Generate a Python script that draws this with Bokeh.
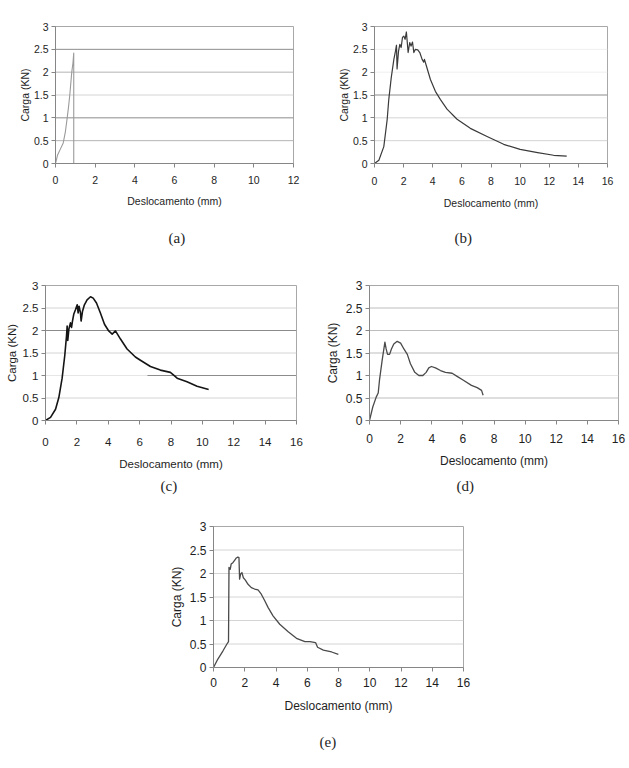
from bokeh.plotting import figure
from bokeh.layouts import column, row, Spacer
from bokeh.models import Range1d, FixedTicker, Span, Title, NumeralTickFormatter
from bokeh.embed import file_html
from bokeh.resources import INLINE

# Load–displacement curves, one per specimen: Deslocamento (mm) vs Carga (KN)
a_x = [0, 0.1, 0.25, 0.39, 0.5, 0.59, 0.66, 0.72, 0.82, 0.88, 0.92, 0.92]
a_y = [0, 0.18, 0.32, 0.45, 0.7, 1.0, 1.25, 1.5, 2.0, 2.2, 2.42, 0]

b_x = [0, 0.3, 0.64, 0.87, 0.98, 1.15, 1.33, 1.44, 1.51, 1.55, 1.65, 1.74, 1.83, 1.92,
       2.01, 2.1, 2.19, 2.31, 2.42, 2.51, 2.61, 2.7, 2.81, 2.97, 3.11, 3.27, 3.38, 3.43,
       3.57, 3.84, 4.18, 4.53, 4.98, 5.67, 6.58, 7.73, 8.87, 10.0, 11.2, 12.3, 13.2]
b_y = [0, 0.07, 0.37, 0.96, 1.4, 1.88, 2.28, 2.46, 2.59, 2.07, 2.46, 2.61, 2.54, 2.76,
       2.79, 2.72, 2.88, 2.43, 2.65, 2.57, 2.66, 2.43, 2.5, 2.49, 2.43, 2.28, 2.22, 2.28,
       2.13, 1.84, 1.58, 1.4, 1.19, 0.97, 0.77, 0.59, 0.42, 0.31, 0.24, 0.18, 0.16]

c_x = [0, 0.32, 0.64, 0.85, 1.06, 1.23, 1.34, 1.38, 1.42, 1.49, 1.59, 1.66, 1.72, 1.8,
       1.91, 2.02, 2.08, 2.14, 2.23, 2.27, 2.36, 2.48, 2.65, 2.87, 3.04, 3.25, 3.5, 3.76,
       4.03, 4.25, 4.46, 4.78, 5.2, 5.73, 6.05, 6.69, 7.32, 7.96, 8.17, 8.39, 9.02, 9.66, 10.4]
c_y = [0, 0.07, 0.25, 0.51, 0.94, 1.45, 1.88, 2.1, 1.78, 2.03, 2.17, 2.07, 2.21, 2.36,
       2.46, 2.57, 2.39, 2.54, 2.39, 2.21, 2.43, 2.57, 2.68, 2.75, 2.72, 2.61, 2.39, 2.14,
       1.99, 1.92, 1.99, 1.81, 1.59, 1.41, 1.34, 1.2, 1.12, 1.07, 1.01, 0.94, 0.86, 0.76, 0.69]

d_x = [0, 0.21, 0.43, 0.56, 0.64, 0.81, 0.99, 1.07, 1.16, 1.29, 1.41, 1.56, 1.78, 2.0,
       2.21, 2.43, 2.63, 2.91, 3.17, 3.43, 3.64, 3.81, 3.98, 4.24, 4.56, 4.88, 5.31, 5.63,
       6.06, 6.55, 6.92, 7.2, 7.3]
d_y = [0, 0.3, 0.52, 0.61, 0.89, 1.33, 1.74, 1.59, 1.47, 1.47, 1.59, 1.7, 1.76, 1.72,
       1.59, 1.47, 1.26, 1.07, 1.0, 1.0, 1.07, 1.17, 1.2, 1.17, 1.11, 1.07, 1.05, 0.98,
       0.89, 0.78, 0.73, 0.67, 0.56]

e_x = [0, 0.28, 0.6, 0.86, 0.96, 0.99, 0.99, 1.07, 1.13, 1.24, 1.35, 1.46, 1.56, 1.63,
       1.67, 1.74, 1.82, 1.91, 2.04, 2.21, 2.42, 2.63, 2.85, 3.06, 3.28, 3.49, 3.81, 4.24,
       4.78, 5.31, 5.85, 6.17, 6.53, 6.66, 7.03, 7.56, 7.99]
e_y = [0, 0.18, 0.35, 0.5, 0.55, 2.06, 2.13, 2.09, 2.2, 2.23, 2.28, 2.33, 2.35, 2.34,
       1.88, 1.99, 2.02, 1.91, 1.86, 1.77, 1.7, 1.67, 1.65, 1.56, 1.42, 1.28, 1.1, 0.92,
       0.76, 0.62, 0.55, 0.55, 0.53, 0.43, 0.37, 0.33, 0.28]

y_ticks = [0, 0.5, 1, 1.5, 2, 2.5, 3]
x_label = "Deslocamento (mm)"
y_label = "Carga (KN)"
captions = ["(a)", "(b)", "(c)", "(d)", "(e)"]

SANS = "Liberation Sans"
SERIF = "Liberation Serif"
DARK_GRID = "#8c8c8c"
LIGHT_GRID = "#d4d4d4"


def panel(width, height, frame, xmax, xs, ys, color, lw, fs, lfs, grid, caption,
          cap_offset, cap_standoff, xtick_standoff, xlab_standoff, ylab_standoff,
          extra=None):
    left, right, top, bottom = frame
    p = figure(width=width, height=height, output_backend="svg", toolbar_location=None,
               title=None, x_range=Range1d(0, xmax), y_range=Range1d(0, 3),
               min_border_left=left, min_border_right=right,
               min_border_top=top, min_border_bottom=bottom,
               background_fill_color="white", border_fill_color="white")
    p.outline_line_color = "#a8a8a8"
    p.outline_line_width = 1
    p.grid.grid_line_color = None

    # horizontal gridlines, each with its own shade
    for level, shade in grid:
        p.add_layout(Span(location=level, dimension="width", line_color=shade,
                          line_width=1, level="underlay"))
    if extra is not None:
        extra(p)

    p.line(xs, ys, line_color=color, line_width=lw, line_join="round")

    p.xaxis.ticker = FixedTicker(ticks=list(range(0, xmax + 1, 2)))
    p.yaxis.ticker = FixedTicker(ticks=y_ticks)
    p.yaxis.formatter = NumeralTickFormatter(format="0.[0]")
    for ax in (p.xaxis[0], p.yaxis[0]):
        ax.axis_line_color = "#868686"
        ax.major_tick_line_color = "#868686"
        ax.major_tick_out = 4
        ax.major_tick_in = 0
        ax.minor_tick_line_color = None
        ax.major_label_text_font = SANS
        ax.major_label_text_font_size = f"{fs}px"
        ax.major_label_text_color = "#1e1e1e"
        ax.axis_label_text_font = SANS
        ax.axis_label_text_font_size = f"{lfs}px"
        ax.axis_label_text_font_style = "normal"
        ax.axis_label_text_color = "#1e1e1e"
    p.xaxis.axis_label = x_label
    p.yaxis.axis_label = y_label
    p.xaxis.major_label_standoff = xtick_standoff
    p.yaxis.major_label_standoff = 3
    p.xaxis.axis_label_standoff = xlab_standoff
    p.yaxis.axis_label_standoff = ylab_standoff

    # caption under the x-axis title, offset from the frame's left edge
    p.add_layout(Title(text=caption, align="left", offset=cap_offset,
                       standoff=cap_standoff, text_font=SERIF, text_font_size="15px",
                       text_font_style="normal", text_color="#1e1e1e"), "below")
    return p


def c_partial_grid(p):
    # darker stretch of the 1 KN gridline on the right half of (c)
    c_grid_from = 6.5
    p.line([c_grid_from, 16], [1, 1], line_color=DARK_GRID, line_width=1)


grid_a = [(0.5, "#b4b4b4"), (1, DARK_GRID), (1.5, LIGHT_GRID), (2, "#b4b4b4"), (2.5, DARK_GRID)]
grid_b = [(0.5, LIGHT_GRID), (1, LIGHT_GRID), (1.5, DARK_GRID), (2, "#efefef"), (2.5, "#efefef")]
grid_c = [(0.5, LIGHT_GRID), (1, "#e6e6e6"), (1.5, LIGHT_GRID), (2, DARK_GRID), (2.5, LIGHT_GRID)]
grid_d = [(0.5, "#bdbdbd"), (1, "#e4e4e4"), (1.5, "#bdbdbd"), (2, "#bdbdbd"), (2.5, "#bdbdbd")]
grid_e = [(0.5, LIGHT_GRID), (1, LIGHT_GRID), (1.5, LIGHT_GRID), (2, LIGHT_GRID), (2.5, LIGHT_GRID)]

pa = panel(320, 264, (55, 27, 20, 101), 12, a_x, a_y, "#9a9a9a", 1.1, 10.5, 10.5,
           grid_a, captions[0], 113, 37, 8, 8, 0)
pb = panel(309, 264, (54, 22, 26, 100), 16, b_x, b_y, "#3a3a3a", 1.2, 10.5, 10.5,
           grid_b, captions[1], 80, 32, 9, 9, 0)
pc = panel(320, 248, (45, 24, 21, 89), 16, c_x, c_y, "#151515", 1.6, 11.5, 11.5,
           grid_c, captions[2], 115, 6, 13, 9, 2, extra=c_partial_grid)
pd = panel(309, 248, (49, 11, 19, 92), 16, d_x, d_y, "#4a4a4a", 1.3, 12, 12,
           grid_d, captions[3], 87, 11, 9, 8, 3)
pe = panel(320, 256, (53, 17, 14, 101), 16, e_x, e_y, "#4a4a4a", 1.3, 12, 12,
           grid_e, captions[4], 106, 33, 6, 9, 3)

layout = column(row(pa, pb), row(pc, pd), row(Spacer(width=160, height=256), pe))

open("out.html", "w").write(file_html(layout, INLINE))
